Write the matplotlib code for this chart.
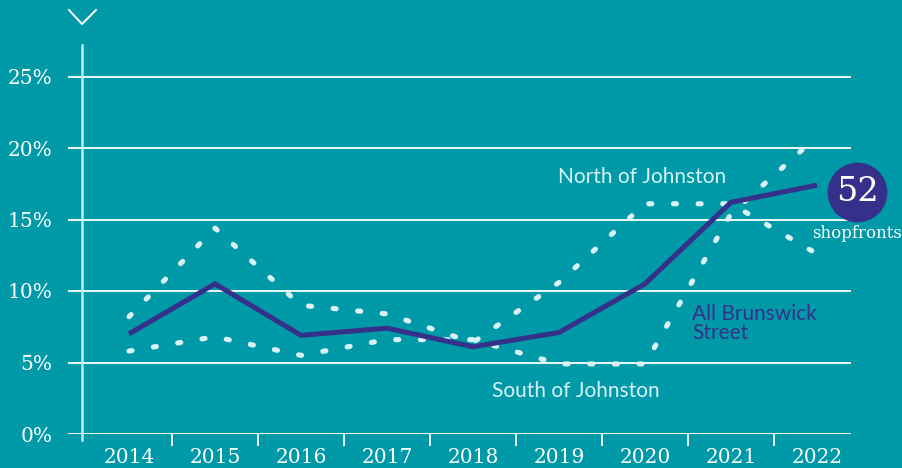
import matplotlib
matplotlib.use("Agg")
import matplotlib.pyplot as plt
from matplotlib.lines import Line2D
from matplotlib.transforms import offset_copy
import numpy as np

years = ["2014", "2015", "2016", "2017", "2018", "2019", "2020", "2021", "2022"]
all_street = [7.0, 10.5, 6.9, 7.4, 6.1, 7.1, 10.5, 16.2, 17.4]
north = [8.2, 14.4, 9.0, 8.4, 6.4, 10.6, 16.1, 16.1, 12.6]
south = [5.8, 6.8, 5.5, 6.6, 6.6, 4.9, 4.9, 15.4, 20.8]
y_ticks = [0, 5, 10, 15, 20, 25]
y_labels = ["0%", "5%", "10%", "15%", "20%", "25%"]
total_shopfronts = "52"

BG = "#0099A8"
INDIGO = "#35318A"
LIGHT = "#D8F2F6"

W, H = 902, 468
fig = plt.figure(figsize=(W / 100, H / 100), dpi=100, facecolor=BG)
# axes spans pixel x 68..851, y 45..434
ax = fig.add_axes([68 / W, 1 - 434 / H, (851 - 68) / W, (434 - 45) / H])
ax.set_facecolor(BG)

x = np.arange(len(years))
px_per_unit = 86.0
x0_px = 129.0
ax.set_xlim((68 - x0_px) / px_per_unit, (851 - x0_px) / px_per_unit)
ax.set_ylim(0, (434 - 45) / 71.5 * 5)

for s in ax.spines.values():
    s.set_visible(False)

# gridlines
for yt in y_ticks:
    ax.axhline(yt, color="white", lw=1.3, zorder=1)

# y axis line
yaxis_x = (82 - x0_px) / px_per_unit
ax.axvline(yaxis_x, ymin=-6 / (434 - 45), ymax=1.0, color="#C4EBF0", lw=1.8,
           clip_on=False, zorder=1)

ax.set_yticks(y_ticks)
ax.set_yticklabels(y_labels)
ax.set_xticks(x)
ax.set_xticklabels(years)
ax.set_xticks(x[:-1] + 0.5, minor=True)
ax.tick_params(axis="y", length=0, pad=11, labelsize=14.5, labelcolor="white")
ax.tick_params(axis="x", which="major", length=0, pad=10, labelsize=14.5,
               labelcolor="white")
ax.tick_params(axis="x", which="minor", length=8.5, width=1.3, color="white",
               direction="out")
for lab in ax.get_xticklabels() + ax.get_yticklabels():
    lab.set_family("DejaVu Serif")

dot_style = (0, (0.6, 4.2))
ax.plot(x, north, color=LIGHT, lw=3.7, linestyle=dot_style,
        dash_capstyle="round", solid_capstyle="round", zorder=3)
ax.plot(x, south, color=LIGHT, lw=3.7, linestyle=dot_style,
        dash_capstyle="round", solid_capstyle="round", zorder=3)
ax.plot(x, all_street, color=INDIGO, lw=3.6, solid_joinstyle="miter",
        solid_capstyle="butt", zorder=4)

# series labels
ax.text(5.965, 17.95, "North of Johnston", color=LIGHT, fontsize=15,
        family="Lato", ha="center", va="center")
ax.text(5.19, 3.0, "South of Johnston", color=LIGHT, fontsize=15,
        family="Lato", ha="center", va="center")
ax.text(6.547, 7.75, "All Brunswick\nStreet", color=INDIGO, fontsize=15,
        family="Lato", ha="left", va="center", linespacing=0.95)

# end badge
tr = offset_copy(ax.transData, fig=fig, x=40, y=-7, units="dots")
ax.plot([x[-1]], [all_street[-1]], marker="o", markersize=42,
        color=INDIGO, transform=tr, clip_on=False, zorder=5)
ax.text(x[-1], all_street[-1], total_shopfronts, transform=tr, color="white",
        fontsize=24, family="DejaVu Serif", ha="center", va="center",
        zorder=6, clip_on=False)
tr2 = offset_copy(ax.transData, fig=fig, x=40, y=-48, units="dots")
ax.text(x[-1], all_street[-1], "shopfronts", transform=tr2, color="white",
        fontsize=12, family="DejaVu Serif", ha="center", va="center",
        zorder=6, clip_on=False)

# chevron
chev = Line2D([69 / W, 82 / W, 96 / W], [1 - 10 / H, 1 - 24 / H, 1 - 10 / H],
              transform=fig.transFigure, color="white", lw=1.4)
fig.add_artist(chev)

fig.savefig("out.png", dpi=100, facecolor=BG)
